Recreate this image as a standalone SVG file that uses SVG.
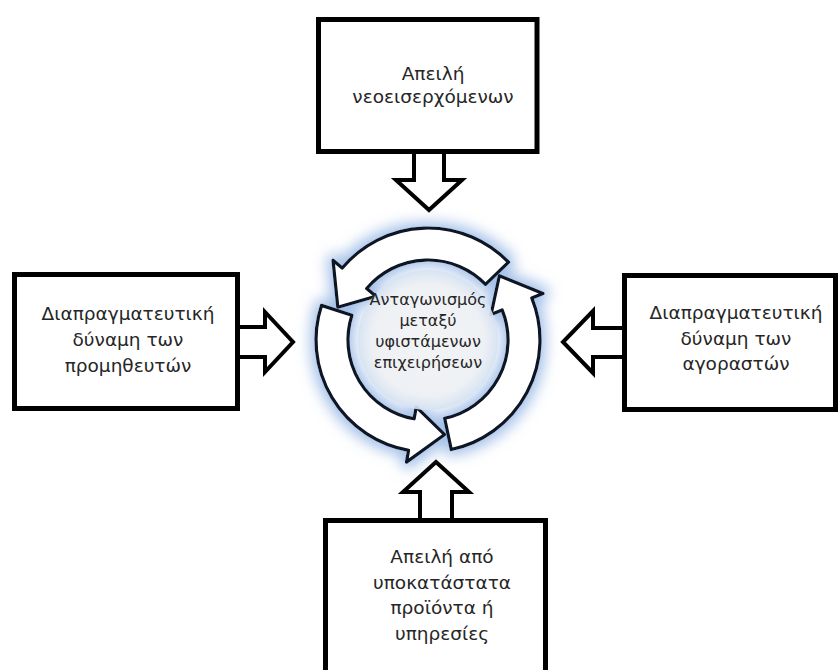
<svg xmlns="http://www.w3.org/2000/svg" width="840" height="670" viewBox="0 0 840 670">
<defs>
<style>
.box{fill:#fff;stroke:#000;stroke-width:5}
.blk{fill:#fff;stroke:#000;stroke-width:4;stroke-linejoin:miter}
.cyc{fill:#fff;stroke:#0d1320;stroke-width:3.2;stroke-linejoin:round}
.t{font-family:"DejaVu Sans","Noto Sans",sans-serif;font-size:18.5px;fill:#262626;text-anchor:middle}
.c{font-family:"DejaVu Sans","Noto Sans",sans-serif;font-size:16px;fill:#262626;text-anchor:middle}
</style>
<radialGradient id="inner" cx="0.5" cy="0.5" r="0.5">
<stop offset="0" stop-color="#f1f2f4"/>
<stop offset="0.8" stop-color="#eceff3"/>
<stop offset="1" stop-color="#d6e2f2"/>
</radialGradient>
<filter id="glow" x="-30%" y="-30%" width="160%" height="160%">
<feMorphology in="SourceAlpha" operator="dilate" radius="4" result="d"/>
<feGaussianBlur in="d" stdDeviation="7" result="b"/>
<feFlood flood-color="#86abe0" flood-opacity="0.75"/>
<feComposite in2="b" operator="in" result="g"/>
<feMerge><feMergeNode in="g"/><feMergeNode in="SourceGraphic"/></feMerge>
</filter>
</defs>
<rect width="840" height="670" fill="#fff"/>

<g id="connectors">
<path class="blk" d="M414,152 L414,180 L396,180 L429,210 L462,180 L444,180 L444,152"/>
<path class="blk" d="M238,327 L265,327 L265,312 L293,342 L265,372 L265,357 L238,357"/>
<path class="blk" d="M622,328 L593,328 L593,311 L563,342 L593,373 L593,357 L622,357"/>
<path class="blk" d="M420,518 L420,492 L403,492 L436,462 L469,492 L452,492 L452,518"/>
</g>

<g id="center">
<g filter="url(#glow)">
<path class="cyc" d="M508.56,262.19 A112,112 0 0 0 342.21,268.01 L333.02,260.29 L337.79,307.17 L375.91,296.29 L366.72,288.58 A80,80 0 0 1 485.54,284.42 Z"/>
<path class="cyc" d="M321.48,305.39 A112,112 0 0 0 408.56,450.30 L406.47,462.12 L444.67,434.54 L416.20,406.97 L414.11,418.78 A80,80 0 0 1 351.91,315.28 Z"/>
<path class="cyc" d="M451.28,449.55 A112,112 0 0 0 531.85,298.04 L542.97,293.55 L499.34,275.77 L491.05,314.53 L502.18,310.03 A80,80 0 0 1 444.63,418.25 Z"/>
</g>
<circle cx="428" cy="340" r="70" fill="url(#inner)" opacity="0.9"/>
<text class="c" x="428" y="305">Ανταγωνισμός</text>
<text class="c" x="428" y="326">μεταξύ</text>
<text class="c" x="428" y="347">υφιστάμενων</text>
<text class="c" x="428" y="368">επιχειρήσεων</text>
</g>

<g id="top">
<rect class="box" x="318.5" y="19.5" width="218.5" height="132"/>
<text class="t" x="433" y="80">Απειλή</text>
<text class="t" x="433" y="103">νεοεισερχόμενων</text>
</g>

<g id="left">
<rect class="box" x="14.5" y="274.5" width="223" height="134"/>
<text class="t" x="128" y="320">Διαπραγματευτική</text>
<text class="t" x="128" y="346">δύναμη των</text>
<text class="t" x="128" y="372">προμηθευτών</text>
</g>

<g id="right">
<rect class="box" x="624.5" y="275.5" width="211" height="134"/>
<text class="t" x="736" y="319">Διαπραγματευτική</text>
<text class="t" x="736" y="345">δύναμη των</text>
<text class="t" x="736" y="370">αγοραστών</text>
</g>

<g id="bottom">
<rect class="box" x="325.5" y="520.5" width="220" height="170"/>
<text class="t" x="442" y="563">Απειλή από</text>
<text class="t" x="442" y="589">υποκατάστατα</text>
<text class="t" x="442" y="614">προϊόντα ή</text>
<text class="t" x="442" y="640">υπηρεσίες</text>
</g>
</svg>
